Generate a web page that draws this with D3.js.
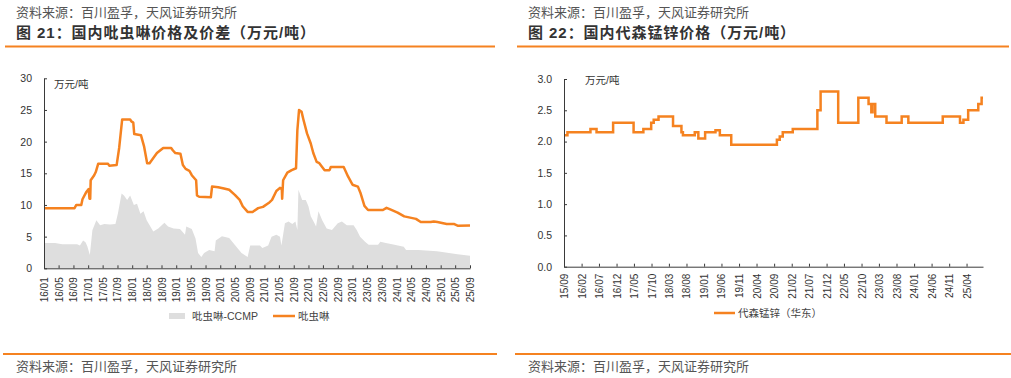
<!DOCTYPE html>
<html>
<head>
<meta charset="utf-8">
<script src="https://cdn.jsdelivr.net/npm/d3@7"></script>
<style>
  body { margin: 0; background: #fff; }
  svg { display: block; }
  text { font-family: "Liberation Sans", "Noto Sans CJK SC", sans-serif; }
</style>
</head>
<body>
<div id="my_dataviz"></div>
<script>
// ---- data ----
// left: 吡虫啉 price (万元/吨)
var imiDates = ["2016-01-01","2016-09-10","2016-09-25","2016-11-05","2016-11-15","2016-12-15","2017-01-05","2017-01-12","2017-01-18","2017-01-22",
  "2017-02-20","2017-03-05","2017-03-25","2017-06-15","2017-06-25","2017-08-25","2017-09-15","2017-10-10","2017-12-15","2017-12-25",
  "2018-01-10","2018-01-18","2018-03-15","2018-04-10","2018-05-05","2018-05-25","2018-06-25","2018-07-25","2018-09-15","2018-11-20",
  "2018-12-05","2018-12-25","2019-02-05","2019-02-25","2019-03-20","2019-04-20","2019-05-10","2019-06-15","2019-06-22","2019-07-10",
  "2019-10-15","2019-10-25","2019-12-15","2020-02-01","2020-03-15","2020-05-01","2020-06-10","2020-07-05","2020-08-15","2020-09-25",
  "2020-11-10","2020-12-20","2021-02-05","2021-03-05","2021-04-10","2021-05-10","2021-05-25","2021-05-28","2021-06-05","2021-07-10",
  "2021-08-15","2021-09-20","2021-10-01","2021-10-15","2021-11-05","2021-11-20","2021-12-20","2022-01-20","2022-02-10","2022-03-10",
  "2022-04-01","2022-05-15","2022-06-25","2022-07-05","2022-10-20","2022-11-25","2023-01-01","2023-02-15","2023-03-10","2023-04-10",
  "2023-05-10","2023-09-10","2023-10-10","2023-11-10","2024-01-10","2024-03-05","2024-06-10","2024-07-20","2024-10-10","2024-11-05",
  "2024-12-05","2025-02-20","2025-04-20","2025-05-25","2025-09-01"];
var imiPrice = [9.5,9.5,10.0,10.0,10.9,12.0,12.5,11.0,11.0,13.9,
  14.7,15.2,16.5,16.5,16.2,16.3,19.0,23.5,23.5,23.2,
  23.0,21.2,21.0,19.2,16.6,16.6,17.4,18.2,19.0,19.0,
  18.6,18.2,18.1,16.3,15.7,15.4,14.7,13.9,11.5,11.3,
  11.2,12.9,12.8,12.6,12.4,11.6,10.8,9.8,8.9,8.9,
  9.5,9.7,10.3,10.8,12.2,12.7,12.6,11.0,13.9,15.1,
  15.5,15.8,21.8,25.0,24.7,23.5,21.3,19.7,18.2,16.8,
  16.6,15.5,15.5,16.0,16.0,14.5,13.2,12.9,11.8,9.85,
  9.2,9.2,9.55,9.3,8.8,8.2,7.8,7.3,7.3,7.4,
  7.3,7.0,7.0,6.7,6.75];

// left: 吡虫啉-CCMP spread
var spreadDates = ["2016-01-01","2016-04-01","2016-06-01","2016-10-01","2016-10-25","2016-11-20","2016-12-10","2016-12-25","2017-01-15","2017-02-05",
  "2017-03-10","2017-04-10","2017-05-15","2017-07-01","2017-08-15","2017-09-05","2017-10-05","2017-10-25","2017-11-20","2017-12-15",
  "2018-01-15","2018-02-10","2018-03-10","2018-04-05","2018-05-01","2018-06-25","2018-08-05","2018-09-25","2018-10-25","2018-12-10",
  "2019-02-01","2019-03-15","2019-03-25","2019-05-10","2019-06-10","2019-07-01","2019-07-28","2019-08-20","2019-10-01","2019-11-15",
  "2019-11-25","2020-01-15","2020-03-15","2020-05-10","2020-06-25","2020-08-15","2020-09-05","2020-11-25","2020-12-15","2021-02-01",
  "2021-03-01","2021-04-10","2021-05-10","2021-05-22","2021-06-20","2021-07-20","2021-08-20","2021-09-15","2021-10-01","2021-10-10",
  "2021-11-10","2021-12-10","2022-01-01","2022-01-20","2022-02-20","2022-03-05","2022-03-25","2022-04-25","2022-06-01","2022-07-15",
  "2022-09-01","2022-10-05","2022-11-15","2023-01-10","2023-02-05","2023-03-05","2023-04-15","2023-05-15","2023-08-01","2023-08-20",
  "2023-10-05","2023-12-15","2024-03-01","2024-03-20","2024-07-01","2024-12-01","2025-02-10","2025-05-20","2025-09-01"];
var spreadValues = [4.0,4.0,3.8,3.8,3.6,4.4,4.1,3.5,2.1,6.0,
  7.6,6.8,7.0,6.9,7.0,8.7,11.8,11.5,10.8,11.5,
  10.0,10.2,8.6,9.0,7.6,5.8,6.3,7.2,6.6,6.3,
  6.2,5.3,6.6,6.2,4.7,2.4,1.8,2.4,2.9,2.7,
  4.4,5.05,4.8,3.5,2.4,1.8,3.6,3.6,3.2,3.6,
  5.0,5.3,5.0,3.6,7.1,7.4,7.0,7.4,6.05,12.4,
  10.8,10.8,9.8,8.2,7.1,6.6,9.0,7.6,6.3,6.05,
  7.1,7.4,6.8,6.8,6.05,5.0,4.2,3.7,3.7,4.2,
  4.0,3.7,3.4,2.9,2.9,2.7,2.5,2.2,2.0];

var leftTicks = ["16/01","16/05","16/09","17/01","17/05","17/09","18/01","18/05","18/09","19/01",
  "19/05","19/09","20/01","20/05","20/09","21/01","21/05","21/09","22/01","22/05",
  "22/09","23/01","23/05","23/09","24/01","24/05","24/09","25/01","25/05","25/09"];
var leftYTicks = [0, 5, 10, 15, 20, 25, 30];

// right: 代森锰锌（华东） price, each value holds until the next date
var mzDates = ["2015-09-01","2015-10-01","2016-04-18","2016-06-10","2016-11-01","2017-04-28","2017-07-22","2017-09-28","2017-10-20","2017-12-01",
  "2018-04-06","2018-06-18","2018-07-01","2018-10-12","2018-11-12","2019-01-10","2019-04-10","2019-05-18","2019-08-25","2020-09-25",
  "2020-10-20","2020-11-15","2021-02-10","2021-09-12","2021-10-10","2022-03-12","2022-09-03","2022-12-01","2022-12-25","2023-01-05",
  "2023-01-28","2023-05-06","2023-09-15","2023-11-12","2024-09-06","2025-02-03","2025-03-05","2025-04-15","2025-07-12","2025-08-10",
  "2025-08-22"];
var mzPrice = [2.10,2.15,2.20,2.15,2.30,2.15,2.20,2.30,2.35,2.40,
  2.25,2.15,2.10,2.15,2.05,2.15,2.18,2.10,1.95,2.03,
  2.08,2.15,2.20,2.50,2.80,2.30,2.70,2.60,2.47,2.60,
  2.40,2.30,2.40,2.30,2.40,2.30,2.35,2.50,2.60,2.70,
  2.70];

var rightTicks = ["15/09","16/02","16/07","16/12","17/05","17/10","18/03","18/08","19/01","19/06",
  "19/11","20/04","20/09","21/02","21/07","21/12","22/05","22/10","23/03","23/08",
  "24/01","24/06","24/11","25/04"];
var rightYTicks = [0, 0.5, 1.0, 1.5, 2.0, 2.5, 3.0];

var orange = "#F58220",
    grey = "#dedede",
    axisColor = "#3a3a3a";

var parseDay = d3.timeParse("%Y-%m-%d"),
    parseTick = d3.timeParse("%y/%m");

var svg = d3.select("#my_dataviz")
  .append("svg")
    .attr("width", 1011)
    .attr("height", 378);

// header / footer for each panel
function frame(x0, x1, title) {
  svg.append("text")
    .attr("x", x0 + 11).attr("y", 17)
    .style("font-size", "13px")
    .attr("fill", "#555")
    .text("资料来源：百川盈孚，天风证券研究所");
  svg.append("text")
    .attr("x", x0 + 11).attr("y", 38)
    .style("font-size", "15px").style("font-weight", "bold").style("letter-spacing", "0.95px")
    .attr("fill", "#333")
    .text(title);
  svg.append("line")
    .attr("x1", x0).attr("x2", x1).attr("y1", 46.5).attr("y2", 46.5)
    .attr("stroke", orange).attr("stroke-width", 2);
  svg.append("line")
    .attr("x1", x0 - 2).attr("x2", x1 + 2).attr("y1", 354).attr("y2", 354)
    .attr("stroke", orange).attr("stroke-width", 2);
  svg.append("text")
    .attr("x", x0 + 11).attr("y", 371)
    .style("font-size", "13px")
    .attr("fill", "#555")
    .text("资料来源：百川盈孚，天风证券研究所");
}

frame(5, 495, "图 21：国内吡虫啉价格及价差（万元/吨）");
frame(517, 1009, "图 22：国内代森锰锌价格（万元/吨）");

function drawAxes(g, x, y, xTicks, yTicks, yFmt, labelGap) {
  g.append("g")
    .attr("transform", "translate(0," + y.range()[0] + ")")
    .call(d3.axisBottom(x)
      .tickValues(xTicks.map(parseTick))
      .tickFormat(d3.timeFormat("%y/%m"))
      .tickSizeInner(-3).tickSizeOuter(0))
    .call(function(a) {
      a.select(".domain").attr("stroke", axisColor);
      a.selectAll("line").attr("stroke", axisColor);
      a.selectAll("text")
        .attr("transform", "rotate(-90)")
        .attr("x", -labelGap).attr("y", 0).attr("dy", "0.35em")
        .style("text-anchor", "end")
        .style("font-size", "10px")
        .attr("fill", "#333");
    });

  g.append("g")
    .attr("transform", "translate(" + x.range()[0] + ",0)")
    .call(d3.axisLeft(y)
      .tickValues(yTicks)
      .tickFormat(yFmt)
      .tickSizeInner(-3).tickSizeOuter(0).tickPadding(12))
    .call(function(a) {
      a.select(".domain").attr("stroke", axisColor);
      a.selectAll("line").attr("stroke", axisColor);
      a.selectAll("text").style("font-size", "10.5px").attr("fill", "#333");
    });
}

// ---------- left chart ----------
var imiData = imiDates.map(function(d, i) { return {date: parseDay(d), v: imiPrice[i]}; });
var spreadData = spreadDates.map(function(d, i) { return {date: parseDay(d), v: spreadValues[i]}; });

var x1 = d3.scaleTime()
    .domain([parseTick("16/01"), parseTick("25/09")])
    .range([44, 470]);
var y1 = d3.scaleLinear()
    .domain([0, 30])
    .range([268.3, 78.3]);

var left = svg.append("g");

left.append("path")
  .datum(spreadData)
  .attr("fill", grey)
  .attr("d", d3.area()
    .x(function(d) { return x1(d.date); })
    .y0(y1(0))
    .y1(function(d) { return y1(d.v); }));

left.append("path")
  .datum(imiData)
  .attr("fill", "none")
  .attr("stroke", orange)
  .attr("stroke-width", 2.5)
  .attr("stroke-linejoin", "round")
  .attr("d", d3.line()
    .x(function(d) { return x1(d.date); })
    .y(function(d) { return y1(d.v); }));

drawAxes(left, x1, y1, leftTicks, leftYTicks, d3.format("d"), 9);

left.append("text")
  .attr("x", 54).attr("y", 88)
  .style("font-size", "10.5px").attr("fill", "#333")
  .text("万元/吨");

// legend
left.append("rect")
  .attr("x", 169).attr("y", 313).attr("width", 16).attr("height", 6)
  .attr("fill", grey);
left.append("text")
  .attr("x", 192).attr("y", 320)
  .style("font-size", "10.5px").attr("fill", "#444")
  .text("吡虫啉-CCMP");
left.append("line")
  .attr("x1", 273).attr("x2", 295).attr("y1", 316).attr("y2", 316)
  .attr("stroke", orange).attr("stroke-width", 2.5);
left.append("text")
  .attr("x", 298).attr("y", 320)
  .style("font-size", "10.5px").attr("fill", "#444")
  .text("吡虫啉");

// ---------- right chart ----------
var mzData = mzDates.map(function(d, i) { return {date: parseDay(d), v: mzPrice[i]}; });

var x2 = d3.scaleTime()
    .domain([parseTick("15/09"), parseDay("2025-08-22")])
    .range([564, 983]);
var y2 = d3.scaleLinear()
    .domain([0, 3])
    .range([266.7, 79]);

var right = svg.append("g");

right.append("path")
  .datum(mzData)
  .attr("fill", "none")
  .attr("stroke", orange)
  .attr("stroke-width", 2.5)
  .attr("d", d3.line()
    .curve(d3.curveStepAfter)
    .x(function(d) { return x2(d.date); })
    .y(function(d) { return y2(d.v); }));

drawAxes(right, x2, y2, rightTicks, rightYTicks, d3.format(".1f"), 7);

right.append("text")
  .attr("x", 585).attr("y", 84)
  .style("font-size", "10.5px").attr("fill", "#333")
  .text("万元/吨");

right.append("line")
  .attr("x1", 714).attr("x2", 735).attr("y1", 313).attr("y2", 313)
  .attr("stroke", orange).attr("stroke-width", 2.5);
right.append("text")
  .attr("x", 738).attr("y", 317)
  .style("font-size", "10.5px").attr("fill", "#444")
  .text("代森锰锌（华东）");
</script>
</body>
</html>
